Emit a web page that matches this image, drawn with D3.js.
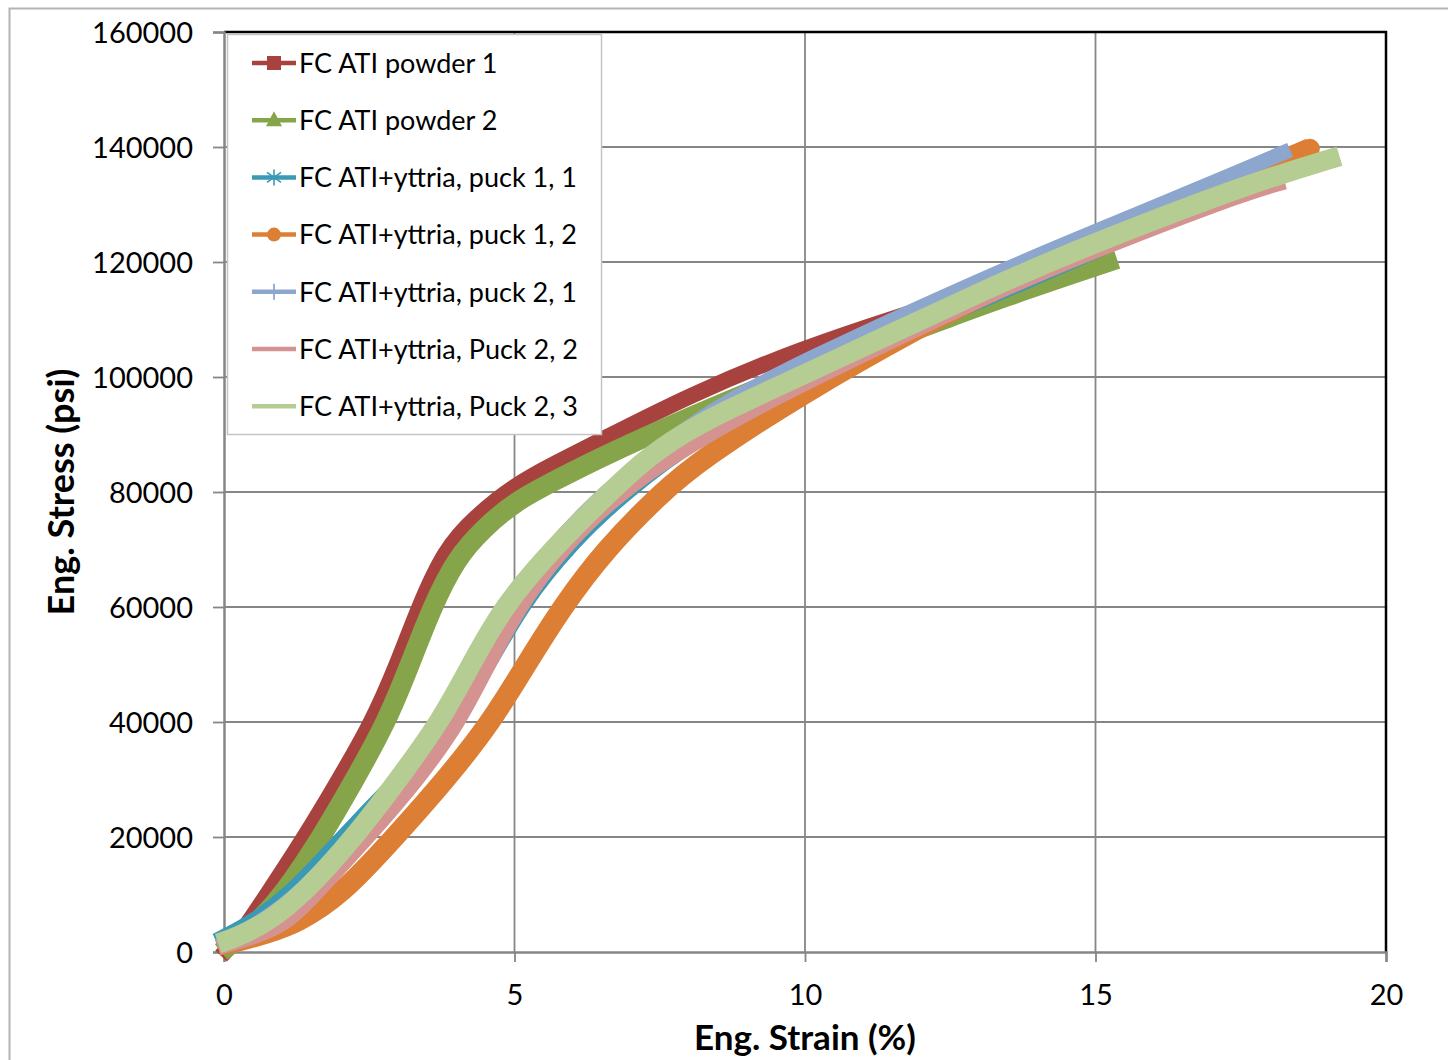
<!DOCTYPE html>
<html><head><meta charset="utf-8">
<script src="https://cdn.jsdelivr.net/npm/d3@7"></script>
<style>
body{margin:0;background:#fff;}
svg{display:block;}
text{font-family:Lato,"Open Sans",sans-serif;}
</style></head>
<body><svg id="chart" width="1448" height="1060"></svg>
<script>
const seriesNames = ["FC ATI powder 1","FC ATI powder 2","FC ATI+yttria, puck 1, 1","FC ATI+yttria, puck 1, 2","FC ATI+yttria, puck 2, 1","FC ATI+yttria, Puck 2, 2","FC ATI+yttria, Puck 2, 3"];
const seriesColors = ["#A8423F","#86A44A","#3A9AB5","#DC7F34","#8DA6CE","#D49391","#B5CC93"];
const seriesMarkers = ["square","triangle","asterisk","circle","plus","none","none"];
const seriesWidths = [16,20,12,21,15,15,20];

const strain1 = [-0.05,0.25,0.74,1.39,1.98,2.55,2.98,3.35,3.8,4.3,5.0,5.7,6.47,8.0,9.91,12.0,13.5,15.15];
const stress1 = [-700,2500,10000,20000,30000,40000,50000,60000,70000,75500,81200,85000,88900,96800,104900,111800,116500,121000];
const strain2 = [-0.05,0.57,1.02,1.68,2.25,2.8,3.2,3.58,4.0,4.45,5.0,5.7,6.47,8.0,9.9,12.0,13.36,15.37];
const stress2 = [0,5000,10000,20000,30000,40000,50000,60000,68500,73500,78300,82000,86000,93000,101000,108500,113700,120500];
const strain3 = [-0.15,0.4,1.1,2.0,2.95,3.95,4.6,5.13,6.0,6.95,8.2,9.9,12.0,13.4,15.9,18.3];
const stress3 = [2200,5000,10000,20000,30000,40000,50000,60000,71000,80000,89500,99000,108500,114500,125500,137000];
const strain4 = [-0.1,0.3,0.74,1.25,2.03,2.94,3.82,4.6,5.2,5.82,6.56,7.54,8.19,9.91,12.03,13.36,15.5,17.66,18.69];
const stress4 = [1200,2000,3300,5000,10000,20000,30000,40000,50000,60000,70000,80000,85500,96900,109000,115800,125400,135300,139700];
const strain5 = [-0.1,0.6,1.3,2.2,3.05,3.75,4.35,4.85,5.6,6.47,8.19,9.91,13.36,15.15,17.66,18.35];
const stress5 = [1000,5000,10000,20000,30000,40000,50000,60000,70000,79500,93400,102600,118500,125900,136500,139500];
const strain6 = [-0.1,0.5,1.1,1.57,2.48,3.34,4.05,4.55,5.08,5.8,6.8,8.3,9.91,13.4,15.5,17.66,18.26];
const stress6 = [800,2500,5000,10000,20000,30000,40000,50000,60000,70000,80000,90000,98600,115500,124000,132300,133900];
const strain7 = [-0.1,0.2,0.72,1.36,2.25,3.0,3.72,4.25,4.8,5.64,6.64,7.7,9.91,13.36,15.15,17.66,19.2];
const stress7 = [1500,2500,5000,10000,20000,30000,40000,50000,60000,70000,80000,90000,100000,116500,124000,133700,138400];

const strains = [strain1,strain2,strain3,strain4,strain5,strain6,strain7];
const stresses = [stress1,stress2,stress3,stress4,stress5,stress6,stress7];

const xTicks = [0,5,10,15,20];
const yTicks = [0,20000,40000,60000,80000,100000,120000,140000,160000];
const xTitle = "Eng. Strain (%)";
const yTitle = "Eng. Stress (psi)";

const svg = d3.select("#chart");
const L=224,R=1386,T=32,B=952;
const x = d3.scaleLinear().domain([0,20]).range([L,R]);
const y = d3.scaleLinear().domain([0,160000]).range([B,T]);
const gridCol="#868686";

// outer frame
svg.append("path").attr("d","M9.5,1060 V8.5 H1448").attr("fill","none").attr("stroke","#b4b4b4").attr("stroke-width",2);

// gridlines
svg.append("g").selectAll("line").data(yTicks.filter(d=>d>0 && d<160000)).join("line")
 .attr("x1",L).attr("x2",R).attr("y1",d=>y(d)).attr("y2",d=>y(d)).attr("stroke",gridCol).attr("stroke-width",1.8);
svg.append("g").selectAll("line").data(xTicks.filter(d=>d>0 && d<20)).join("line")
 .attr("y1",T).attr("y2",B).attr("x1",d=>x(d)).attr("x2",d=>x(d)).attr("stroke",gridCol).attr("stroke-width",1.8);

// border top/right
svg.append("path").attr("d",`M${L},${T} H${R} V${B}`).attr("fill","none").attr("stroke","#000").attr("stroke-width",2.5);

// axes
const yAxis = d3.axisLeft(y).tickValues(yTicks).tickSize(11).tickPadding(20).tickFormat(d3.format("d"));
const gy = svg.append("g").attr("transform",`translate(${L},0)`).call(yAxis);
const xAxis = d3.axisBottom(x).tickValues(xTicks).tickSize(10).tickPadding(22).tickFormat(d3.format("d"));
const gx = svg.append("g").attr("transform",`translate(0,${B})`).call(xAxis);
[gx,gy].forEach(g=>{
  g.select(".domain").attr("stroke",gridCol).attr("stroke-width",2.5);
  g.selectAll(".tick line").attr("stroke",gridCol).attr("stroke-width",1.8);
  g.selectAll(".tick text").attr("fill","#000").attr("font-size",29).attr("font-family","Lato,'Open Sans',sans-serif");
});
gy.selectAll(".tick text").attr("dy","0.36em");

// titles
svg.append("text").attr("x",805).attr("y",1050).attr("text-anchor","middle").attr("font-size",35).attr("font-weight","bold").text(xTitle);
svg.append("text").attr("transform","translate(74,492) rotate(-90)").attr("text-anchor","middle").attr("font-size",36).attr("font-weight","bold").text(yTitle);

// series
const line = d3.line().x(d=>x(d[0])).y(d=>y(d[1])).curve(d3.curveBasis);
const gS = svg.append("g");
strains.forEach((sx,i)=>{
  const pts = sx.map((v,j)=>[v,stresses[i][j]]);
  gS.append("path").attr("d",line(pts)).attr("fill","none").attr("stroke",seriesColors[i])
    .attr("stroke-width",seriesWidths[i]).attr("stroke-linejoin","round").attr("stroke-linecap","butt");
  if(i===3){
    const last = pts[pts.length-1];
    gS.append("circle").attr("cx",x(last[0])).attr("cy",y(last[1])).attr("r",10).attr("fill",seriesColors[i]);
  }
});

// legend
const lg = svg.append("g");
lg.append("rect").attr("x",227.5).attr("y",34.5).attr("width",374).attr("height",400).attr("fill","#fff").attr("stroke","#c4c4c4").attr("stroke-width",1.5);
const ly = i => 63 + i*57.2;
seriesNames.forEach((nm,i)=>{
  const cy = ly(i), c = seriesColors[i];
  lg.append("line").attr("x1",252).attr("x2",296).attr("y1",cy).attr("y2",cy).attr("stroke",c).attr("stroke-width",4.5);
  const m = seriesMarkers[i], mx=274;
  if(m==="square") lg.append("rect").attr("x",mx-7).attr("y",cy-7).attr("width",14).attr("height",14).attr("fill",c);
  if(m==="triangle") lg.append("path").attr("d",`M${mx},${cy-9} L${mx+8},${cy+6} L${mx-8},${cy+6} Z`).attr("fill",c);
  if(m==="circle") lg.append("circle").attr("cx",mx).attr("cy",cy).attr("r",7).attr("fill",c);
  if(m==="asterisk"){
    [[0,-8,0,8],[-7,-5,7,5],[-7,5,7,-5]].forEach(s=>lg.append("line").attr("x1",mx+s[0]).attr("y1",cy+s[1]).attr("x2",mx+s[2]).attr("y2",cy+s[3]).attr("stroke",c).attr("stroke-width",1.6));
  }
  if(m==="plus") lg.append("line").attr("x1",mx).attr("x2",mx).attr("y1",cy-8).attr("y2",cy+8).attr("stroke",c).attr("stroke-width",1.8);
  lg.append("text").attr("x",299).attr("y",cy).attr("dy","0.36em").attr("font-size",27).attr("fill","#000").text(nm);
});
</script></body></html>
